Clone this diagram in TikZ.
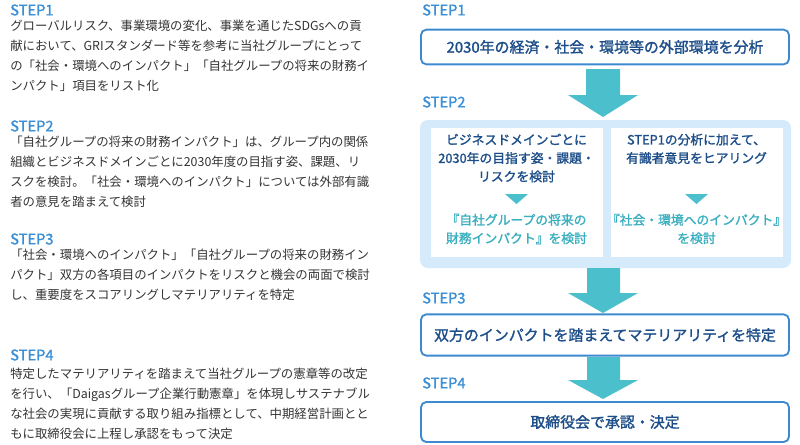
\documentclass[tikz,border=0pt]{standalone}
\usepackage{fontspec}
\setmainfont{Noto Sans CJK JP}
\newfontfamily\jpb{Noto Sans CJK JP}[FakeBold=1.5]
\definecolor{steplbl}{HTML}{3A8FD6}
\definecolor{arrowc}{HTML}{4BBFCC}
\definecolor{panelc}{HTML}{D5EBFB}
\definecolor{boxtxt}{HTML}{1D4E89}
\definecolor{boxline}{HTML}{3D8AD0}
\definecolor{bodytxt}{HTML}{333333}
\definecolor{teal}{HTML}{3AAFC0}
\begin{document}
\begin{tikzpicture}[x=0.75pt,y=-0.75pt,
  steplabel/.style={anchor=west,text=steplbl,font=\fontsize{11}{12}\selectfont\jpb,inner sep=0},
  body/.style={anchor=north west,text=bodytxt,font=\fontsize{9.3}{14.9}\selectfont,align=left,inner sep=0,text width=285pt},
  mainbox/.style={draw=boxline,line width=1.4pt,rounded corners=4pt,fill=white,text=boxtxt,font=\fontsize{11.2}{13}\selectfont\jpb},
  inner/.style={fill=white,align=center,text=boxtxt,font=\fontsize{9.6}{13.8}\selectfont\jpb},
  result/.style={align=center,text=teal,font=\fontsize{9.6}{13.8}\selectfont\jpb},
  bigarrow/.style={fill=arrowc},
  tri/.style={fill=arrowc}]
\useasboundingbox (0,0) rectangle (800,444);
% left column
\node[steplabel] (l1) at (10,10) {STEP1};
\node[body] (t1) at (10,20) {グローバルリスク、事業環境の変化、事業を通じたSDGsへの貢\\献において、GRIスタンダード等を参考に当社グループにとって\\の「社会・環境へのインパクト」「自社グループの将来の財務イ\\ンパクト」項目をリスト化};
\node[steplabel] (l2) at (10,126) {STEP2};
\node[body] (t2) at (10,136) {「自社グループの将来の財務インパクト」は、グループ内の関係\\組織とビジネスドメインごとに2030年度の目指す姿、課題、リ\\スクを検討。「社会・環境へのインパクト」については外部有識\\者の意見を踏まえて検討};
\node[steplabel] (l3) at (10,239) {STEP3};
\node[body] (t3) at (10,249) {「社会・環境へのインパクト」「自社グループの将来の財務イン\\パクト」双方の各項目のインパクトをリスクと機会の両面で検討\\し、重要度をスコアリングしマテリアリティを特定};
\node[steplabel] (l4) at (10,355) {STEP4};
\node[body] (t4) at (10,368) {特定したマテリアリティを踏まえて当社グループの憲章等の改定\\を行い、「Daigasグループ企業行動憲章」を体現しサステナブル\\な社会の実現に貢献する取り組み指標として、中期経営計画とと\\もに取締役会に上程し承認をもって決定};
% right column
\node[steplabel] (r1) at (422,10) {STEP1};
\node[mainbox,minimum width=276pt,minimum height=26pt] (b1) at (605,47) {2030年の経済・社会・環境等の外部環境を分析};
\fill[bigarrow] (586,69) -- (620,69) -- (620,95) -- (638,95) -- (603,117) -- (568,95) -- (586,95) -- cycle;
\node[steplabel] (r2) at (422,102) {STEP2};
\fill[panelc,rounded corners=6pt] (420,120) rectangle (791,268);
\node[inner,minimum width=129pt,minimum height=97pt] (in1) at (516.5,192.5) {};
\node[inner,minimum width=129pt,minimum height=97pt] (in2) at (696.5,192.5) {};
\node[inner,anchor=north] (q1) at (516.5,129) {ビジネスドメインごとに\\2030年の目指す姿・課題・\\リスクを検討};
\node[inner,anchor=north] (q2) at (696.5,129) {STEP1の分析に加えて、\\有識者意見をヒアリング};
\fill[tri] (505,194) -- (528,194) -- (516.5,204) -- cycle;
\fill[tri] (685,194) -- (708,194) -- (696.5,204) -- cycle;
\node[result] (a1) at (516.5,229) {『自社グループの将来の\\財務インパクト』を検討};
\node[result] (a2) at (696.5,229) {『社会・環境へのインパクト』\\を検討};
\fill[bigarrow] (587,268) -- (620,268) -- (620,293) -- (638,293) -- (603,313) -- (568,293) -- (587,293) -- cycle;
\node[steplabel] (r3) at (422,298) {STEP3};
\node[mainbox,minimum width=276pt,minimum height=31pt] (b3) at (605,335) {双方のインパクトを踏まえてマテリアリティを特定};
\fill[bigarrow] (587,357) -- (620,357) -- (620,380) -- (638,380) -- (603,399) -- (568,380) -- (587,380) -- cycle;
\node[steplabel] (r4) at (422,383) {STEP4};
\node[mainbox,minimum width=276pt,minimum height=30pt] (b4) at (605,422) {取締役会で承認・決定};
\end{tikzpicture}
\end{document}
